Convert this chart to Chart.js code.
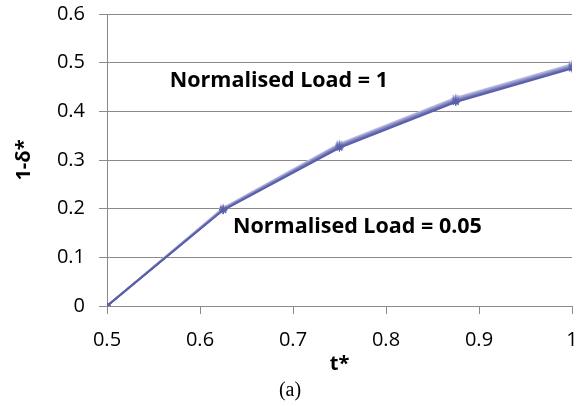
<!DOCTYPE html>
<html>
<head>
<meta charset="utf-8">
<script src="https://cdn.jsdelivr.net/npm/chart.js@4/dist/chart.umd.min.js"></script>
<style>
  html, body { margin: 0; padding: 0; background: #fff; }
  #wrap { position: relative; width: 587px; height: 406px; }
  #caption {
    position: absolute; left: 270px; top: 378px; width: 40px; text-align: center;
    font-family: "Liberation Serif", "Times New Roman", serif; font-size: 20px; color: #000;
  }
</style>
</head>
<body>
<div id="wrap">
  <canvas id="chart" width="587" height="406"></canvas>
  <div id="caption">(a)</div>
</div>
<script>
// -- THE DATA --
const tValues = [0.5, 0.625, 0.75, 0.875, 1]; // t*
const loads = [0.05, 0.1, 0.2, 0.4, 0.6, 0.8, 1]; // normalised load per series
const load005 = [0, 0.197, 0.325, 0.419, 0.488];
const load01  = [0, 0.198, 0.327, 0.421, 0.490];
const load02  = [0, 0.198, 0.328, 0.422, 0.491];
const load04  = [0, 0.199, 0.330, 0.424, 0.493];
const load06  = [0, 0.200, 0.331, 0.425, 0.494];
const load08  = [0, 0.201, 0.332, 0.427, 0.496];
const load1   = [0, 0.202, 0.334, 0.428, 0.497];
const seriesValues = [load005, load01, load02, load04, load06, load08, load1];
const xTickLabels = [0.5, 0.6, 0.7, 0.8, 0.9, 1];
const yTickLabels = [0, 0.1, 0.2, 0.3, 0.4, 0.5, 0.6];
const notes = [
  { text: 'Normalised Load = 1', x: 0.5675, y: 0.5 },
  { text: 'Normalised Load = 0.05', x: 0.6355, y: 0.2 }
];

// -- THE CHART --
const font = '"Open Sans", "Liberation Sans", sans-serif';
const colors = ['#5a5fa9', '#6b70b3', '#7c80bd', '#8e91c7', '#a0a2d1', '#b2b3da', '#c3c4e3'];
const gridColor = '#8a8a8a';

const datasets = seriesValues.map((vals, i) => ({
  label: 'Normalised Load = ' + loads[i],
  data: vals.map((v, j) => ({ x: tValues[j], y: v })),
  borderColor: colors[i],
  backgroundColor: colors[i],
  borderWidth: 1.8,
  pointStyle: 'star',
  pointRadius: 4,
  pointBorderWidth: 1.2,
  tension: 0
}));

// text labels placed in data coordinates
const notesPlugin = {
  id: 'notes',
  afterDatasetsDraw(chart) {
    const ctx = chart.ctx;
    const xs = chart.scales.x, ys = chart.scales.y;
    ctx.save();
    ctx.font = 'bold 21.5px ' + font;
    ctx.fillStyle = '#000';
    ctx.textBaseline = 'middle';
    ctx.textAlign = 'left';
    notes.forEach(n => {
      ctx.fillText(n.text, xs.getPixelForValue(n.x), ys.getPixelForValue(n.y) + 18);
    });
    ctx.restore();
  }
};

new Chart(document.getElementById('chart'), {
  type: 'line',
  data: { datasets: datasets },
  plugins: [notesPlugin],
  options: {
    responsive: false,
    animation: false,
    layout: { padding: { top: 14, right: 15, bottom: 0, left: 0 } },
    plugins: { legend: { display: false }, tooltip: { enabled: false } },
    scales: {
      x: {
        type: 'linear',
        min: 0.5, max: 1,
        afterBuildTicks: s => { s.ticks = xTickLabels.map(v => ({ value: v })); },
        afterFit: s => { s.height = 100; s.paddingLeft = 0; s.paddingRight = 0; },
        ticks: {
          color: '#000', padding: 14, maxRotation: 0,
          font: { family: font, size: 20 },
          callback: v => String(+v.toFixed(1))
        },
        grid: { drawOnChartArea: false, drawTicks: true, tickLength: 8, color: gridColor, lineWidth: 1 },
        border: { color: gridColor, width: 1 },
        title: {
          display: true, text: 't*', color: '#000',
          font: { family: font, size: 20, weight: 'bold' },
          padding: { top: 0, bottom: 30 }
        }
      },
      y: {
        min: 0, max: 0.6,
        afterBuildTicks: s => { s.ticks = yTickLabels.map(v => ({ value: v })); },
        afterFit: s => { s.width = 107; s.paddingTop = 0; s.paddingBottom = 0; },
        ticks: {
          color: '#000', padding: 14,
          font: { family: font, size: 20 },
          callback: v => String(+v.toFixed(1))
        },
        grid: { color: gridColor, lineWidth: 1, tickLength: 8 },
        border: { color: gridColor, width: 1 },
        title: {
          display: true, text: '1-δ*', color: '#000',
          font: { family: font, size: 20, weight: 'bold' },
          padding: { top: 12, bottom: 0 }
        }
      }
    }
  }
});
</script>
</body>
</html>
